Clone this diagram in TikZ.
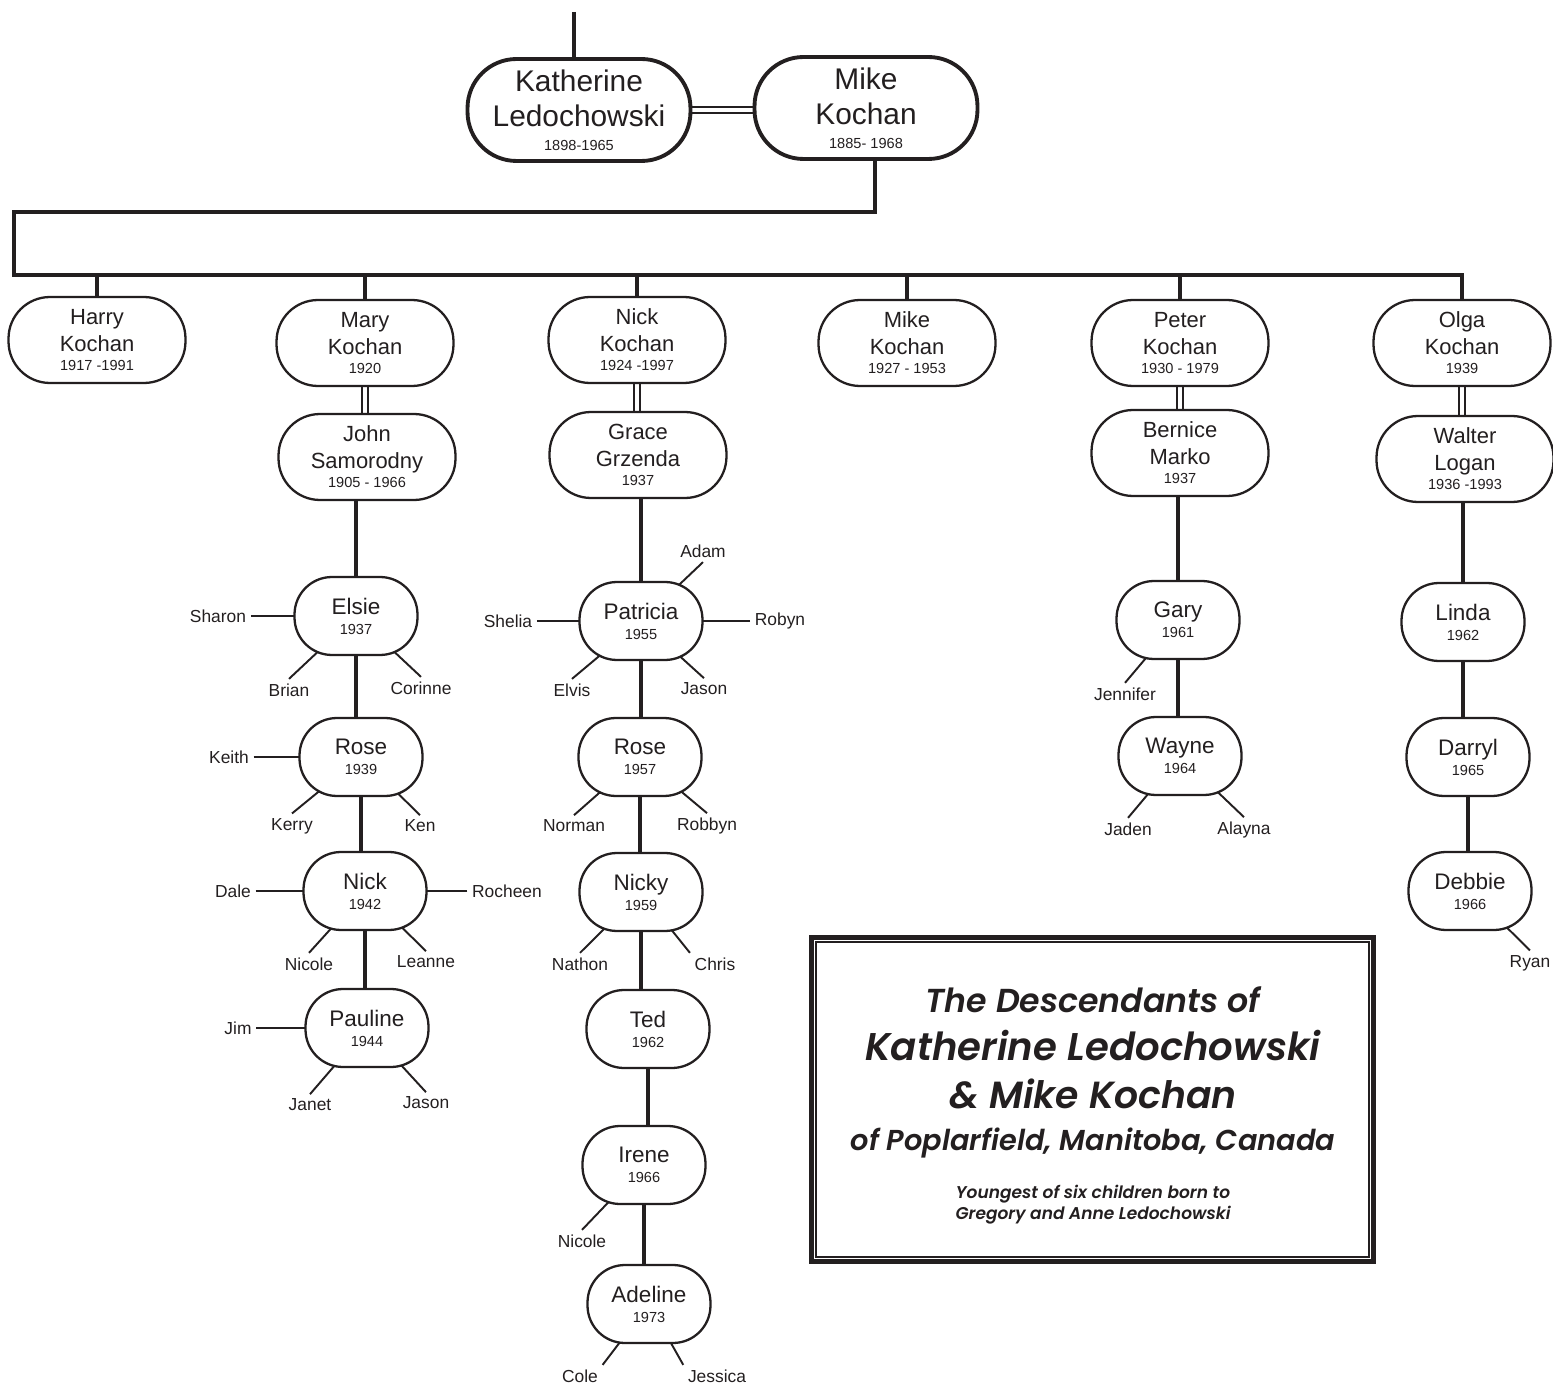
\documentclass[tikz,border=0pt]{standalone}
\usepackage{fontspec}
\setmainfont{Liberation Sans}
\newfontfamily\titlefont{Poppins}[UprightFont=* SemiBold, ItalicFont=* SemiBold Italic,
  BoldFont=* SemiBold, BoldItalicFont=* SemiBold Italic]
\usetikzlibrary{positioning,backgrounds}
\definecolor{ink}{HTML}{231F20}
\newcommand{\yr}[1]{{\fontsize{8.3}{9}\selectfont #1}}

\begin{document}
\begin{tikzpicture}[x=0.02cm, y=-0.02cm,
  elder/.style={draw=ink, fill=white, line width=2.2pt, rounded corners=0.98cm,
                minimum width=4.46cm, minimum height=2.04cm, inner sep=0pt,
                align=center, text=ink, font=\fontsize{17}{19.8}\selectfont},
  heir/.style={draw=ink, fill=white, line width=1.3pt, rounded corners=0.83cm,
               minimum width=3.54cm, minimum height=1.72cm, inner sep=0pt,
               align=center, text=ink, font=\fontsize{12.5}{15.3}\selectfont},
  grand/.style={draw=ink, fill=white, line width=1.3pt, rounded corners=0.75cm,
                minimum width=2.46cm, minimum height=1.56cm, inner sep=0pt,
                align=center, text=ink, font=\fontsize{12.8}{15.3}\selectfont},
  kin/.style={text=ink, inner sep=2.5pt, font=\fontsize{9.9}{12}\selectfont},
  head/.style={anchor=base, text=ink, inner sep=0pt},
  trunk/.style={draw=ink, line width=2.8pt},
  spoke/.style={draw=ink, line width=1.1pt},
  wed/.style={draw=ink, line width=1.1pt, double=white, double distance=2pt}
]
\useasboundingbox (0,0) rectangle (1553,1385);

% founders
\node[elder] (kath) at (579,110) {Katherine\\Ledochowski\\[-6.2pt]\yr{1898-1965}};
\node[elder] (mike) at (866,108) {Mike\\Kochan\\[-6.2pt]\yr{1885- 1968}};
\coordinate (root) at (574,12);
\coordinate (elbow) at (14,212);
\coordinate (busL) at (14,275);

% children and their spouses
\node[heir] (harry) at (97,340) {Harry\\Kochan\\[-4.5pt]\yr{1917 -1991}};
\node[heir] (mary) at (365,343) {Mary\\Kochan\\[-4.5pt]\yr{1920}};
\node[heir] (nick) at (637,340) {Nick\\Kochan\\[-4.5pt]\yr{1924 -1997}};
\node[heir] (mikejr) at (907,343) {Mike\\Kochan\\[-4.5pt]\yr{1927 - 1953}};
\node[heir] (peter) at (1180,343) {Peter\\Kochan\\[-4.5pt]\yr{1930 - 1979}};
\node[heir] (olga) at (1462,343) {Olga\\Kochan\\[-4.5pt]\yr{1939}};
\node[heir] (john) at (367,457) {John\\Samorodny\\[-4.5pt]\yr{1905 - 1966}};
\node[heir] (grace) at (638,455) {Grace\\Grzenda\\[-4.5pt]\yr{1937}};
\node[heir] (bernice) at (1180,453) {Bernice\\Marko\\[-4.5pt]\yr{1937}};
\node[heir] (walter) at (1465,459) {Walter\\Logan\\[-4.5pt]\yr{1936 -1993}};

% grandchildren
\node[grand] (elsie) at (356,616) {Elsie\\[-4pt]\yr{1937}};
\node[grand] (rose) at (361,757) {Rose\\[-4pt]\yr{1939}};
\node[grand] (nickm) at (365,891) {Nick\\[-4pt]\yr{1942}};
\node[grand] (pauline) at (367,1028) {Pauline\\[-4pt]\yr{1944}};
\node[grand] (patricia) at (641,621) {Patricia\\[-4pt]\yr{1955}};
\node[grand] (rosen) at (640,757) {Rose\\[-4pt]\yr{1957}};
\node[grand] (nicky) at (641,892) {Nicky\\[-4pt]\yr{1959}};
\node[grand] (ted) at (648,1029) {Ted\\[-4pt]\yr{1962}};
\node[grand] (irene) at (644,1165) {Irene\\[-4pt]\yr{1966}};
\node[grand] (adeline) at (649,1304) {Adeline\\[-4pt]\yr{1973}};
\node[grand] (gary) at (1178,620) {Gary\\[-4pt]\yr{1961}};
\node[grand] (wayne) at (1180,756) {Wayne\\[-4pt]\yr{1964}};
\node[grand] (linda) at (1463,622) {Linda\\[-4pt]\yr{1962}};
\node[grand] (darryl) at (1468,757) {Darryl\\[-4pt]\yr{1965}};
\node[grand] (debbie) at (1470,891) {Debbie\\[-4pt]\yr{1966}};

% great-grandchildren
\node[kin] (sharon) at (218,616) {Sharon};
\node[kin] (brian) at (289,690) {Brian};
\node[kin] (corinne) at (421,688) {Corinne};
\node[kin] (keith) at (229,757) {Keith};
\node[kin] (kerry) at (292,826) {Kerry};
\node[kin] (ken) at (420,826) {Ken};
\node[kin] (dale) at (233,891) {Dale};
\node[kin] (rocheen) at (507,891) {Rocheen};
\node[kin] (nicole) at (309,964) {Nicole};
\node[kin] (leanne) at (426,962) {Leanne};
\node[kin] (jim) at (238,1028) {Jim};
\node[kin] (janet) at (310,1105) {Janet};
\node[kin] (jason) at (426,1103) {Jason};
\node[kin] (adam) at (703,551) {Adam};
\node[kin] (shelia) at (508,621) {Shelia};
\node[kin] (robyn) at (780,621) {Robyn};
\node[kin] (elvis) at (572,690) {Elvis};
\node[kin] (jasonp) at (704,689) {Jason};
\node[kin] (norman) at (574,826) {Norman};
\node[kin] (robbyn) at (707,826) {Robbyn};
\node[kin] (nathon) at (580,964) {Nathon};
\node[kin] (chris) at (715,964) {Chris};
\node[kin] (nicolei) at (582,1241) {Nicole};
\node[kin] (cole) at (580,1376) {Cole};
\node[kin] (jessica) at (717,1376) {Jessica};
\node[kin] (jennifer) at (1125,694) {Jennifer};
\node[kin] (jaden) at (1128,829) {Jaden};
\node[kin] (alayna) at (1244,830) {Alayna};
\node[kin] (ryan) at (1530,963) {Ryan};

% title panel
\node[draw=ink, line width=2.8pt, minimum width=11.24cm, minimum height=6.48cm,
      inner sep=0pt] (frame) at (1092.5,1099.5) {};
\draw[ink, line width=0.8pt] ([shift={(0.14cm,-0.14cm)}]frame.north west)
  rectangle ([shift={(-0.14cm,0.14cm)}]frame.south east);
\node[head, font=\titlefont\itshape\fontsize{18.9}{22}\selectfont] (head1)
  at (1093,1012) {The Descendants of};
\node[head, font=\titlefont\itshape\fontsize{22}{25}\selectfont] (head2)
  at (1093,1060) {Katherine Ledochowski};
\node[head, font=\titlefont\itshape\fontsize{21.5}{25}\selectfont] (head3)
  at (1093,1108) {\& Mike Kochan};
\node[head, font=\titlefont\itshape\fontsize{16.4}{19}\selectfont] (head4)
  at (1093,1150) {of Poplarfield, Manitoba, Canada};
\node[head, font=\titlefont\itshape\fontsize{9.7}{11}\selectfont] (head5)
  at (1093,1198) {Youngest of six children born to};
\node[head, font=\titlefont\itshape\fontsize{9.7}{11}\selectfont] (head6)
  at (1093,1219) {Gregory and Anne Ledochowski};

\begin{scope}[on background layer]
  \draw[trunk] (root) -- (root |- kath.north);
  \draw[wed] (kath.east) -- (kath.east -| mike.west);
  \draw[trunk] ([xshift=0.18cm]mike.south) |- (elbow) -- (busL)
    -- (olga.north |- busL) -- (olga.north);
  \foreach \k in {harry,mary,nick,mikejr,peter}
    \draw[trunk] (\k.north |- busL) -- (\k.north);
  \foreach \a/\b in {mary/john,nick/grace,peter/bernice,olga/walter}
    \draw[wed] (\a.south) -- (\a.south |- \b.north);
  % spouse to first child
  \foreach \a/\b in {john/elsie,grace/patricia,bernice/gary,walter/linda}
    \draw[trunk] (\b.north) -- (\b.north |- \a.south);
  % one child to the next
  \foreach \a/\b in {elsie/rose,rose/nickm,nickm/pauline,
                     patricia/rosen,rosen/nicky,nicky/ted,ted/irene,irene/adeline,
                     gary/wayne,linda/darryl,darryl/debbie}
    \draw[trunk] (\a.south) -- (\a.south |- \b.north);
  % spokes to the next generation
  \foreach \l/\n in {sharon.east/elsie,brian.north/elsie,corinne.north/elsie,
                     keith.east/rose,kerry.north/rose,ken.north/rose,
                     dale.east/nickm,rocheen.west/nickm,nicole.north/nickm,leanne.north/nickm,
                     jim.east/pauline,janet.north/pauline,jason.north/pauline,
                     adam.south/patricia,shelia.east/patricia,robyn.west/patricia,
                     elvis.north/patricia,jasonp.north/patricia,
                     norman.north/rosen,robbyn.north/rosen,
                     nathon.north/nicky,chris.north west/nicky,
                     nicolei.north/irene,
                     cole.north east/adeline,jessica.north west/adeline,
                     jennifer.north/gary,jaden.north/wayne,alayna.north/wayne,
                     ryan.north/debbie}
    \draw[spoke] (\l) -- (\n.center);
\end{scope}
\end{tikzpicture}
\end{document}
